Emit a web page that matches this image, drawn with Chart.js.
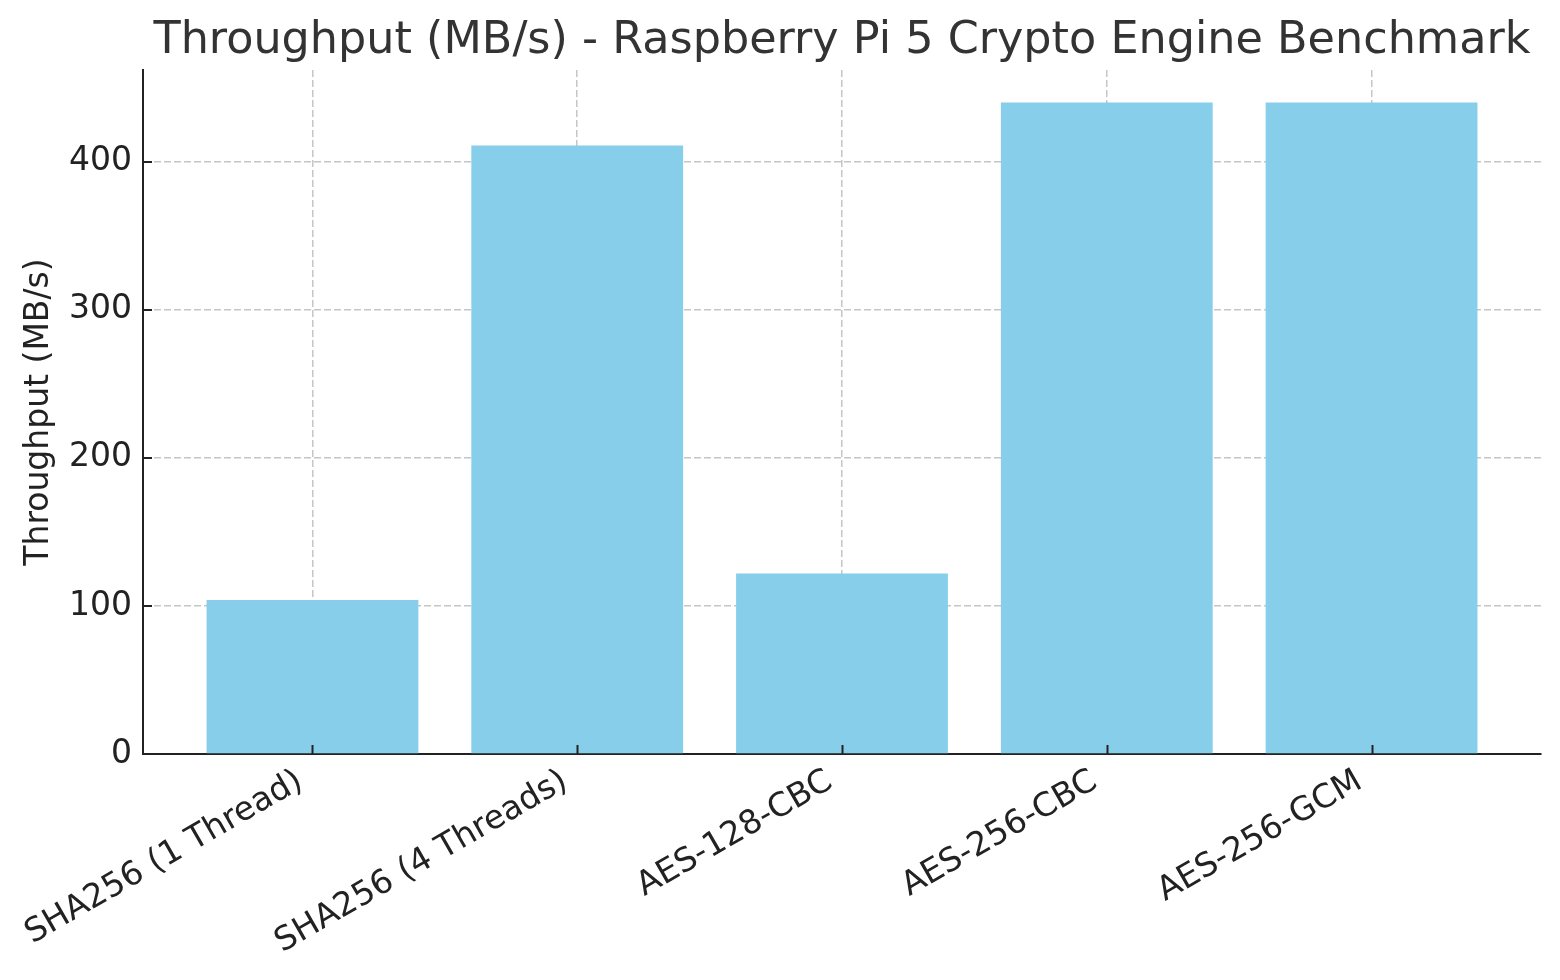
<!DOCTYPE html>
<html>
<head>
<meta charset="utf-8">
<title>Throughput benchmark</title>
<script src="https://cdn.jsdelivr.net/npm/chart.js@4/dist/chart.umd.min.js"></script>
<style>
    html, body { margin: 0; padding: 0; background: #fff; }
    #wrap { width: 1560px; height: 980px; position: relative; }
</style>
</head>
<body>
<div id="wrap"><canvas id="benchChart"></canvas></div>
<script>
// Datos
const categories = ['SHA256 (1 Thread)', 'SHA256 (4 Threads)', 'AES-128-CBC', 'AES-256-CBC', 'AES-256-GCM'];
const throughput = [104, 411, 122, 440, 440];
const yTicks = [0, 100, 200, 300, 400];
const chartTitle = 'Throughput (MB/s) - Raspberry Pi 5 Crypto Engine Benchmark';
const yLabel = 'Throughput (MB/s)';

const FONT = "'DejaVu Sans', sans-serif";

// Título centrado sobre el área del gráfico (como matplotlib)
const titlePlugin = {
    id: 'plotTitle',
    afterDraw(chart) {
        const { ctx, chartArea } = chart;
        ctx.save();
        ctx.font = '44.5px ' + FONT;
        ctx.fillStyle = '#333333';
        ctx.textAlign = 'center';
        ctx.textBaseline = 'alphabetic';
        ctx.fillText(chartTitle, (chartArea.left + chartArea.right) / 2, 53);
        ctx.restore();
    }
};

// Marcas de los ejes hacia dentro
const innerTicks = {
    id: 'innerTicks',
    afterDatasetsDraw(chart) {
        const { ctx, chartArea, scales } = chart;
        ctx.save();
        ctx.strokeStyle = '#222222';
        ctx.lineWidth = 2;
        ctx.beginPath();
        scales.x.ticks.forEach(t => {
            const px = Math.round(scales.x.getPixelForValue(t.value)) + 0.5;
            ctx.moveTo(px, chartArea.bottom);
            ctx.lineTo(px, chartArea.bottom - 9);
        });
        scales.y.ticks.forEach(t => {
            const py = Math.round(scales.y.getPixelForValue(t.value));
            ctx.moveTo(chartArea.left, py);
            ctx.lineTo(chartArea.left + 9, py);
        });
        ctx.stroke();
        ctx.restore();
    }
};

new Chart(document.getElementById('benchChart'), {
    type: 'bar',
    data: {
        datasets: [{
            label: yLabel,
            data: throughput.map((v, i) => ({ x: i, y: v })),
            backgroundColor: '#87CEEB',
            borderWidth: 0,
            barPercentage: 0.8,
            categoryPercentage: 1.0
        }]
    },
    options: {
        responsive: true,
        maintainAspectRatio: false,
        animation: false,
        layout: { padding: { top: 70, right: 19, left: 0, bottom: 0 } },
        plugins: {
            legend: { display: false },
            tooltip: { enabled: false }
        },
        scales: {
            x: {
                type: 'linear',
                offset: false,
                min: -0.64,
                max: 4.64,
                afterBuildTicks: scale => {
                    scale.ticks = categories.map((c, i) => ({ value: i }));
                },
                afterFit: scale => { scale.height = 980 - 754; },
                grid: { color: '#c6c6c6', lineWidth: 1.5, drawTicks: false, offset: false },
                border: { display: true, color: '#222222', width: 2, dash: [7, 3] },
                ticks: {
                    autoSkip: false,
                    minRotation: 30,
                    maxRotation: 30,
                    padding: 8,
                    labelOffset: -12,
                    color: '#222222',
                    font: { family: FONT, size: 33 },
                    callback: v => categories[v]
                }
            },
            y: {
                min: 0,
                max: 462,
                afterBuildTicks: scale => {
                    scale.ticks = yTicks.map(v => ({ value: v }));
                },
                afterFit: scale => { scale.width = 143; },
                grid: { color: '#c6c6c6', lineWidth: 1.5, drawTicks: false },
                border: { display: true, color: '#222222', width: 2, dash: [7, 3] },
                ticks: {
                    padding: 11,
                    color: '#222222',
                    font: { family: FONT, size: 33 }
                },
                title: {
                    display: true,
                    text: yLabel,
                    color: '#222222',
                    font: { family: FONT, size: 33 },
                    padding: { top: 20, bottom: 0 }
                }
            }
        }
    },
    plugins: [titlePlugin, innerTicks]
});
</script>
</body>
</html>
